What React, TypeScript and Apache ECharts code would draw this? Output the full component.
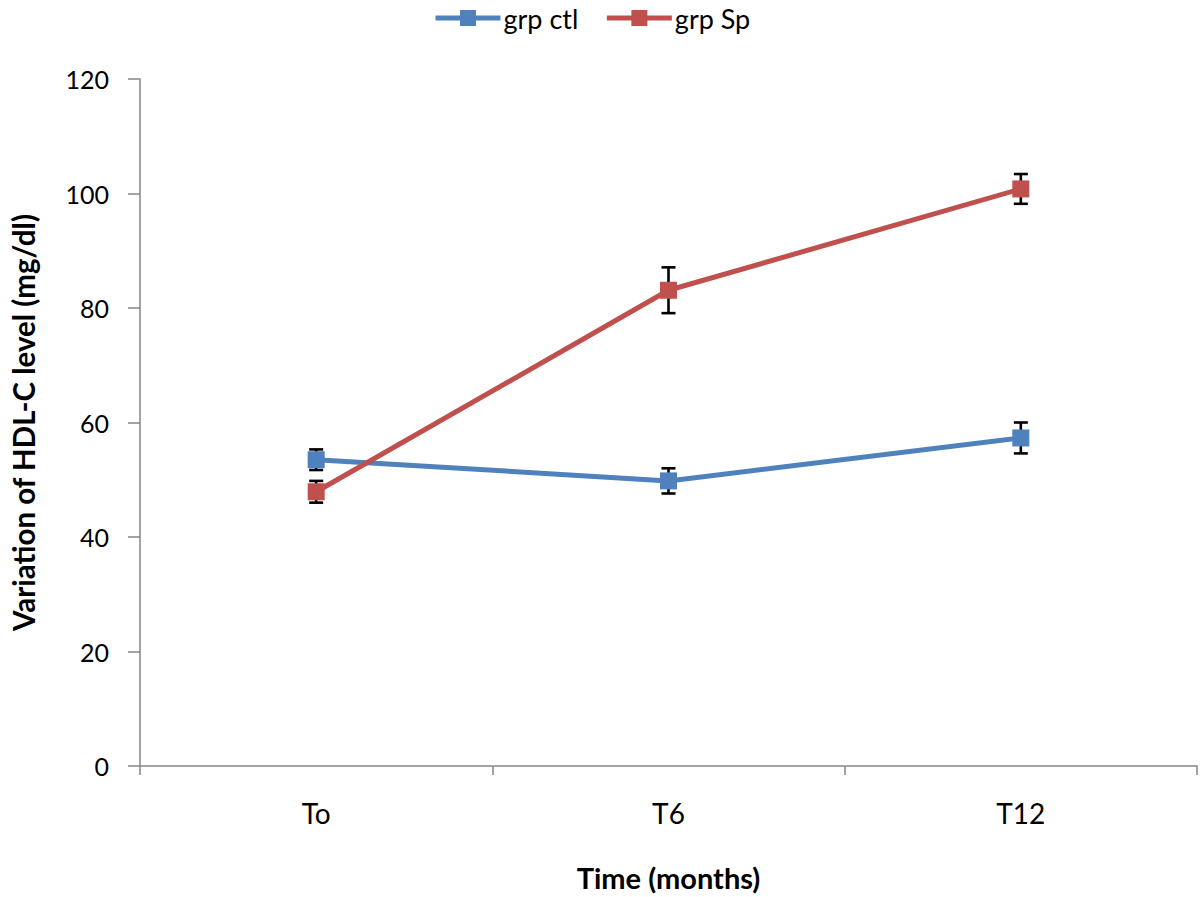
import React, { useEffect, useRef } from "react";
import * as echarts from "echarts";

const categories = ["To", "T6", "T12"];
const ctlValues = [53.5, 49.8, 57.3];
const ctlErrors = [1.8, 2.2, 2.7];
const spValues = [47.9, 83.1, 100.8];
const spErrors = [1.9, 4.0, 2.6];
const yTicks = { min: 0, max: 120, interval: 20 };

const FONT = "Lato, 'Open Sans', sans-serif";

function errorData(vals: number[], errs: number[]) {
  return vals.map((v, i) => [i, v - errs[i], v + errs[i]]);
}

function errorRender(params: any, api: any) {
  const x = api.value(0);
  const lo = api.coord([x, api.value(1)]);
  const hi = api.coord([x, api.value(2)]);
  const half = 7;
  const style = { stroke: "#000", lineWidth: 2.6 };
  return {
    type: "group",
    children: [
      { type: "line", shape: { x1: hi[0], y1: hi[1], x2: lo[0], y2: lo[1] }, style },
      { type: "line", shape: { x1: hi[0] - half, y1: hi[1], x2: hi[0] + half, y2: hi[1] }, style },
      { type: "line", shape: { x1: lo[0] - half, y1: lo[1], x2: lo[0] + half, y2: lo[1] }, style },
    ],
  };
}

export default function App() {
  const ref = useRef<HTMLDivElement>(null);
  useEffect(() => {
    document.body.style.margin = "0";
    if (!ref.current) return;
    const chart = echarts.init(ref.current, null, { renderer: "svg" });
    chart.setOption({
      animation: false,
      backgroundColor: "#fff",
      textStyle: { fontFamily: FONT },
      legend: {
        top: 3,
        left: 433,
        padding: 0,
        itemWidth: 65,
        itemHeight: 20,
        itemGap: 26,
        lineStyle: { width: 5 },
        textStyle: {
          fontSize: 27,
          lineHeight: 30,
          color: "#000",
          fontFamily: FONT,
          padding: [0, 0, 0, -2],
        },
        data: ["grp ctl", "grp Sp"],
      },
      grid: { left: 135, right: 3, top: 79, bottom: 131, containLabel: false },
      xAxis: {
        type: "category",
        data: categories,
        boundaryGap: true,
        axisLine: { lineStyle: { color: "#868686", width: 1.5 } },
        axisTick: { show: true, length: 9, lineStyle: { color: "#868686", width: 1.5 } },
        axisLabel: { fontSize: 28, color: "#000", margin: 33, fontFamily: FONT },
        name: "Time (months)",
        nameLocation: "middle",
        nameGap: 97,
        nameTextStyle: { fontSize: 29, fontWeight: "bold", color: "#000", fontFamily: FONT },
      },
      yAxis: {
        type: "value",
        min: yTicks.min,
        max: yTicks.max,
        interval: yTicks.interval,
        splitLine: { show: false },
        axisLine: { show: true, lineStyle: { color: "#868686", width: 1.5 } },
        axisTick: { show: true, length: 12, lineStyle: { color: "#868686", width: 1.5 } },
        axisLabel: { fontSize: 25, color: "#000", margin: 31, fontFamily: FONT },
        name: "Variation of HDL-C level (mg/dl)",
        nameLocation: "middle",
        nameGap: 102,
        nameTextStyle: { fontSize: 29.5, fontWeight: "bold", color: "#000", fontFamily: FONT },
      },
      series: [
        {
          name: "grp ctl",
          type: "line",
          data: ctlValues,
          symbol: "rect",
          symbolSize: 17,
          itemStyle: { color: "#4F81BD" },
          lineStyle: { color: "#4F81BD", width: 5 },
          z: 3,
        },
        {
          name: "grp Sp",
          type: "line",
          data: spValues,
          symbol: "rect",
          symbolSize: 17,
          itemStyle: { color: "#C0504D" },
          lineStyle: { color: "#C0504D", width: 5 },
          z: 3,
        },
        {
          name: "ctl err",
          type: "custom",
          renderItem: errorRender,
          data: errorData(ctlValues, ctlErrors),
          encode: { x: 0, y: [1, 2] },
          z: 2,
          silent: true,
        },
        {
          name: "sp err",
          type: "custom",
          renderItem: errorRender,
          data: errorData(spValues, spErrors),
          encode: { x: 0, y: [1, 2] },
          z: 2,
          silent: true,
        },
      ],
    });
    return () => chart.dispose();
  }, []);
  return <div ref={ref} style={{ width: 1200, height: 897 }} />;
}
